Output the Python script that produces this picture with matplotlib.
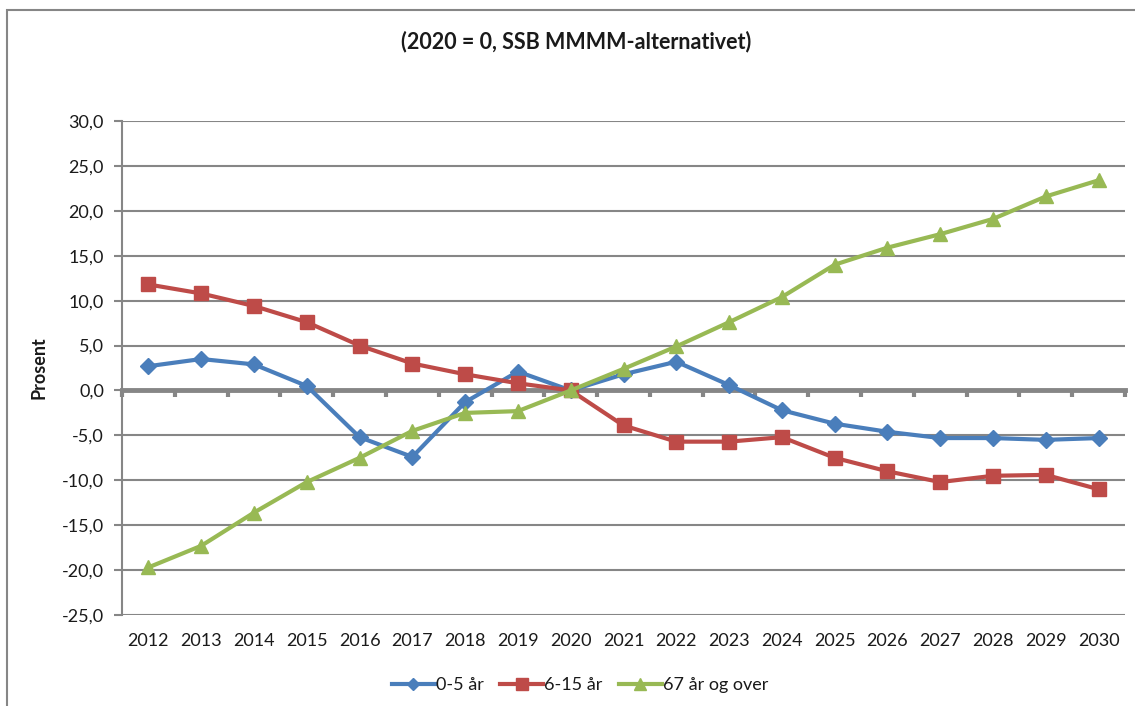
import numpy as np
import matplotlib.pyplot as plt
from matplotlib.patches import Rectangle
from matplotlib.ticker import FixedLocator, FuncFormatter

plt.rcParams["font.family"] = ["Lato", "DejaVu Sans"]

years = list(range(2012, 2031))
age_0_5 = [2.7, 3.5, 2.9, 0.5, -5.2, -7.4, -1.3, 2.1, 0.0, 1.8, 3.2, 0.6, -2.2, -3.7, -4.6, -5.3, -5.3, -5.5, -5.3]
age_6_15 = [11.8, 10.8, 9.4, 7.6, 5.0, 3.0, 1.8, 0.8, 0.0, -3.9, -5.7, -5.7, -5.2, -7.5, -9.0, -10.2, -9.5, -9.4, -11.0]
age_67 = [-19.7, -17.3, -13.6, -10.2, -7.5, -4.5, -2.5, -2.3, 0.0, 2.4, 4.9, 7.6, 10.4, 14.0, 15.9, 17.4, 19.1, 21.6, 23.4]

labels = ["0-5 år", "6-15 år", "67 år og over"]
colors = ["#4a7ebb", "#be4b48", "#98b954"]
markers = ["D", "s", "^"]
msizes = [8, 10, 10]

grid_c = "#868686"
txt_c = "#1a1a1a"

fig = plt.figure(figsize=(11.35, 7.06), dpi=100)
ax = fig.add_axes([122 / 1135, 1 - 615 / 706, (1125 - 122) / 1135, (615 - 121) / 706])

x = np.arange(len(years))
for vals, lab, c, m, ms in zip([age_0_5, age_6_15, age_67], labels, colors, markers, msizes):
    ax.plot(x, vals, color=c, lw=3, marker=m, ms=ms, label=lab, zorder=3)

ax.set_xlim(-0.5, len(years) - 0.5)
ax.set_ylim(-25, 30)
ax.set_yticks(np.arange(-25, 31, 5))
ax.yaxis.set_major_formatter(FuncFormatter(lambda v, p: f"{v:.1f}".replace(".", ",")))
ax.grid(axis="y", color=grid_c, lw=1.5, zorder=1)
ax.tick_params(axis="y", length=6, width=1.5, color=grid_c, pad=7, labelsize=13, labelcolor=txt_c)

for s in ["top", "right"]:
    ax.spines[s].set_visible(False)
ax.spines["left"].set_color(grid_c)
ax.spines["left"].set_linewidth(1.5)
ax.spines["bottom"].set_position(("data", 0))
ax.spines["bottom"].set_color(grid_c)
ax.spines["bottom"].set_linewidth(3.5)
ax.spines["bottom"].set_zorder(2)

ax.set_xticks(x)
ax.xaxis.set_minor_locator(FixedLocator(np.arange(-0.5, len(years), 1)))
ax.tick_params(axis="x", which="major", length=0, labelbottom=False)
ax.tick_params(axis="x", which="minor", length=5, width=3, color=grid_c, direction="out")

sec = ax.secondary_xaxis("bottom")
sec.set_xticks(x)
sec.set_xticklabels([str(y) for y in years])
sec.tick_params(length=0, pad=13, labelsize=13, labelcolor=txt_c)
sec.spines["bottom"].set_visible(False)

ax.set_ylabel("Prosent", fontsize=13, fontweight="bold", labelpad=10, color=txt_c)

fig.text(576 / 1135, 1 - 42 / 706, "(2020 = 0, SSB MMMM-alternativet)", ha="center", va="center",
         fontsize=15.5, fontweight="bold", color=txt_c)

ax.legend(loc="center", bbox_to_anchor=(580 / 1135, 1 - 685 / 706), bbox_transform=fig.transFigure,
          ncol=3, frameon=False, fontsize=13, handlelength=2.4, columnspacing=0.9, handletextpad=0.05,
          markerscale=0.8, labelcolor=txt_c)

fig.patches.append(Rectangle((7 / 1135, -0.1), 1.2, 1 - 10 / 706 + 0.1, transform=fig.transFigure,
                             fill=False, ec=grid_c, lw=1.5))

fig.savefig("out.png", dpi=100)
